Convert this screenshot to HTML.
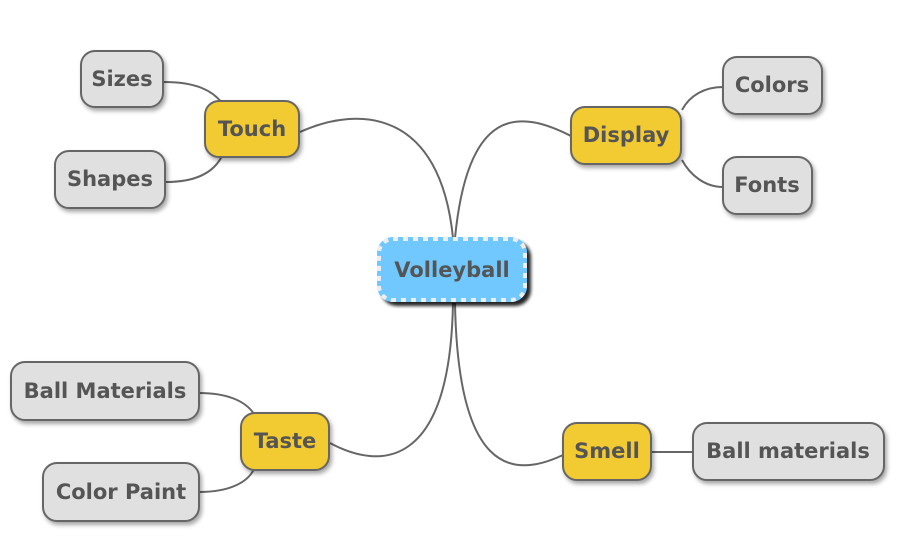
<!DOCTYPE html>
<html><head><meta charset="utf-8"><style>
html,body{margin:0;padding:0;background:#fff;width:902px;height:546px;overflow:hidden}
text{font-family:"DejaVu Sans","Liberation Sans",sans-serif;font-weight:bold;fill:#555;dominant-baseline:central;text-anchor:middle}
</style></head><body>
<svg width="902" height="546" viewBox="0 0 902 546" xmlns="http://www.w3.org/2000/svg">
<defs>
<filter id="sh" x="-20%" y="-20%" width="150%" height="160%"><feDropShadow dx="2" dy="3" stdDeviation="2" flood-color="#000" flood-opacity="0.35"/></filter>
<filter id="sh2" x="-20%" y="-20%" width="150%" height="160%"><feDropShadow dx="4" dy="4" stdDeviation="1.5" flood-color="#000" flood-opacity="0.85"/></filter>
</defs>
<g fill="none" stroke="#666" stroke-width="2">
<path d="M300,132 C360,105 440,110 453,238"/>
<path d="M571,136 C520,110 468,105 455,238"/>
<path d="M330,443 C380,470 450,470 453,303"/>
<path d="M563,455 C510,480 458,470 455,303"/>
<path d="M164,82 C195,82 212,90 222,103"/>
<path d="M166,182 C200,182 215,170 222,156"/>
<path d="M682,110 C690,95 705,87 723,87"/>
<path d="M682,160 C690,175 705,187 723,187"/>
<path d="M199,393 C225,393 245,400 254,414"/>
<path d="M199,492 C230,492 248,482 254,469"/>
<path d="M651,452 L693,452"/>
</g>
<g stroke="#666" stroke-width="2" filter="url(#sh)">
<rect x="205" y="101" width="94" height="56" rx="14" fill="#f2ca30"/>
<rect x="571" y="107" width="110" height="57" rx="14" fill="#f2ca30"/>
<rect x="241" y="413" width="88" height="57" rx="14" fill="#f2ca30"/>
<rect x="563" y="423" width="88" height="57" rx="14" fill="#f2ca30"/>
<rect x="81" y="51" width="82" height="56" rx="14" fill="#e0e0e0"/>
<rect x="55" y="151" width="110" height="57" rx="14" fill="#e0e0e0"/>
<rect x="723" y="57" width="99" height="57" rx="14" fill="#e0e0e0"/>
<rect x="723" y="157" width="89" height="57" rx="14" fill="#e0e0e0"/>
<rect x="11" y="362" width="188" height="58" rx="14" fill="#e0e0e0"/>
<rect x="43" y="463" width="156" height="58" rx="14" fill="#e0e0e0"/>
<rect x="693" y="423" width="191" height="57" rx="14" fill="#e0e0e0"/>
</g>
<rect x="377" y="237" width="150" height="65" rx="16" fill="#70c8ff" filter="url(#sh2)"/>
<rect x="379" y="239" width="146" height="61" rx="14" fill="none" stroke="#eee" stroke-width="4" stroke-dasharray="5 5"/>
<text x="452" y="270" font-size="21">Volleyball</text>
<text x="252" y="129" font-size="21">Touch</text>
<text x="626" y="135" font-size="21">Display</text>
<text x="285" y="441" font-size="21">Taste</text>
<text x="607" y="451" font-size="21">Smell</text>
<text x="122" y="79" font-size="21">Sizes</text>
<text x="110" y="179" font-size="21">Shapes</text>
<text x="772" y="85" font-size="21">Colors</text>
<text x="767" y="185" font-size="21">Fonts</text>
<text x="105" y="391" font-size="21">Ball Materials</text>
<text x="121" y="492" font-size="21">Color Paint</text>
<text x="788" y="451" font-size="21">Ball materials</text>
</svg>
</body></html>
